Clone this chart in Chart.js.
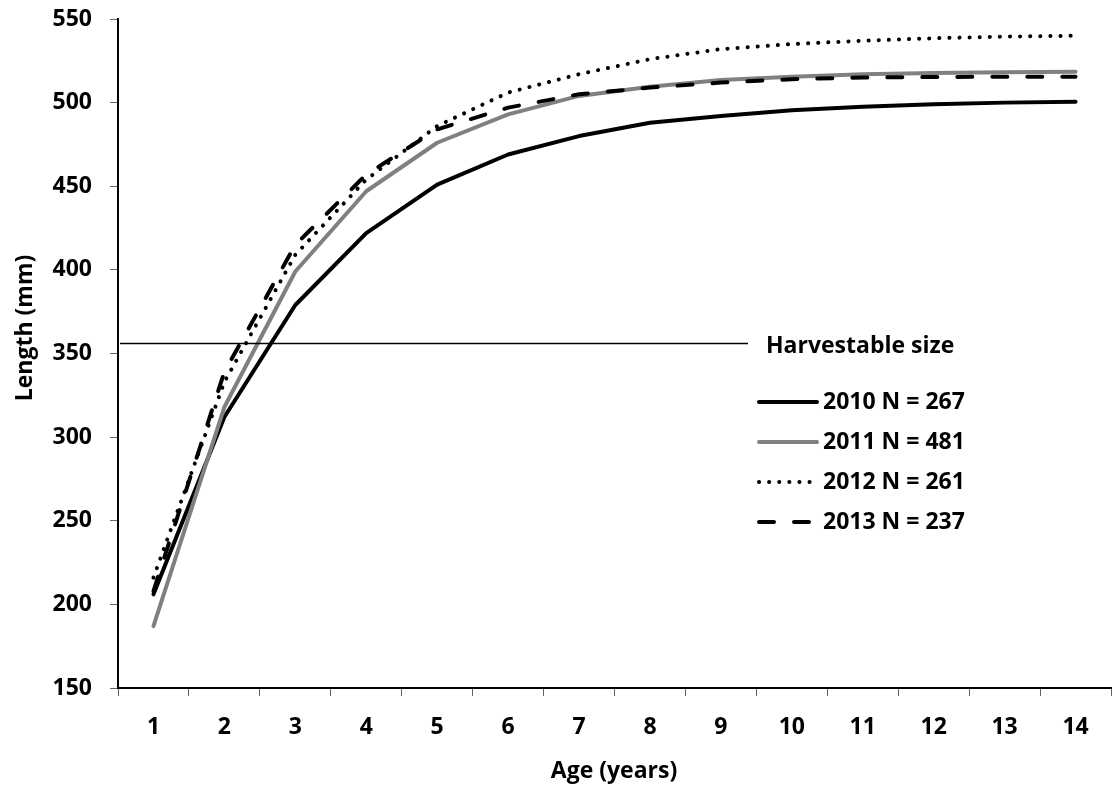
<!DOCTYPE html>
<html>
<head>
<meta charset="utf-8">
<title>Length at age</title>
<script src="https://cdn.jsdelivr.net/npm/chart.js@4.4.1/dist/chart.umd.min.js"></script>
<style>
    body { margin: 0; background: #fff; }
    #wrap { width: 1112px; height: 788px; }
</style>
</head>
<body>
<div id="wrap"><canvas id="myChart" width="1112" height="788"></canvas></div>
<script>
// values
let ages = ['1', '2', '3', '4', '5', '6', '7', '8', '9', '10', '11', '12', '13', '14']
let len2010 = [206, 312, 379, 422, 451, 469, 480, 488, 492, 495.5, 497.5, 499, 500, 500.5]
let len2011 = [187, 318, 399, 447, 476, 493, 504, 509.5, 513.5, 515.5, 517, 517.7, 518.2, 518.5]
let len2012 = [216, 333, 409, 454, 486, 506, 517, 526, 532, 535, 537, 538.5, 539.5, 540]
let len2013 = [208, 339, 415, 457, 484, 497, 505, 509, 512, 514, 515, 515.3, 515.5, 515.5]
let seriesNames = ['2010 N = 267', '2011 N = 481', '2012 N = 261', '2013 N = 237']
let harvestSize = 356
let yTicks = [150, 200, 250, 300, 350, 400, 450, 500, 550]

let fontFamily = "'Open Sans', Lato, sans-serif"
let font = 'bold 23px ' + fontFamily

// legend, harvest line and axis titles, drawn by hand like the Excel original
let sketchPlugin = {
    id: 'sketch',
    afterDatasetsDraw(chart) {
        let ctx = chart.ctx
        let area = chart.chartArea
        let y = chart.scales.y
        ctx.save()

        let hy = Math.round(y.getPixelForValue(harvestSize)) + 0.5
        ctx.strokeStyle = '#000'
        ctx.lineWidth = 1.5
        ctx.beginPath()
        ctx.moveTo(area.left + 2, hy)
        ctx.lineTo(748, hy)
        ctx.stroke()

        ctx.font = font
        ctx.fillStyle = '#000'
        ctx.textBaseline = 'middle'
        ctx.textAlign = 'left'
        ctx.fillText('Harvestable size', 766, hy + 3)

        chart.data.datasets.forEach((ds, i) => {
            let ly = 402 + i * 40
            ctx.strokeStyle = ds.borderColor
            ctx.lineWidth = ds.borderWidth
            ctx.lineCap = ds.borderCapStyle || 'butt'
            ctx.setLineDash(ds.borderDash || [])
            ctx.beginPath()
            ctx.moveTo(759, ly)
            ctx.lineTo(817, ly)
            ctx.stroke()
            ctx.setLineDash([])
            ctx.fillText(ds.label, 823, ly)
        })

        ctx.textAlign = 'center'
        ctx.fillText('Age (years)', 614, 771)

        ctx.translate(25, 328)
        ctx.rotate(-Math.PI / 2)
        ctx.fillText('Length (mm)', 0, 0)
        ctx.restore()
    }
}

let tickFont = { family: fontFamily, size: 23, weight: 'bold' }

let ctx = document.getElementById('myChart').getContext('2d')
let chart = new Chart(ctx, {
    type: 'line',
    data: {
        labels: ages,
        datasets: [{
            label: seriesNames[0],
            data: len2010,
            borderColor: '#000000',
            borderWidth: 4,
            borderCapStyle: 'round',
            order: 3
        }, {
            label: seriesNames[1],
            data: len2011,
            borderColor: '#808080',
            borderWidth: 4,
            borderCapStyle: 'round',
            order: 2
        }, {
            label: seriesNames[2],
            data: len2012,
            borderColor: '#000000',
            borderWidth: 4,
            borderCapStyle: 'round',
            borderDash: [0.1, 10],
            order: 1
        }, {
            label: seriesNames[3],
            data: len2013,
            borderColor: '#000000',
            borderWidth: 4,
            borderCapStyle: 'round',
            borderDash: [15, 20],
            order: 0
        }]
    },
    options: {
        responsive: false,
        devicePixelRatio: 1,
        animation: false,
        layout: { padding: { top: 19, right: 1, left: 0, bottom: 0 } },
        elements: {
            point: { radius: 0 },
            line: { tension: 0, borderJoinStyle: 'round' }
        },
        plugins: {
            legend: { display: false },
            tooltip: { enabled: false }
        },
        scales: {
            x: {
                offset: true,
                grid: {
                    offset: true,
                    drawOnChartArea: false,
                    tickLength: 8,
                    color: '#666'
                },
                border: { color: '#000', width: 2 },
                ticks: {
                    color: '#000',
                    font: tickFont,
                    padding: 18,
                    maxRotation: 0,
                    autoSkip: false
                },
                afterFit(scale) {
                    scale.height = 100
                    scale.paddingLeft = 0
                    scale.paddingRight = 0
                }
            },
            y: {
                min: 150,
                max: 550,
                afterBuildTicks(scale) {
                    scale.ticks = yTicks.map(v => ({ value: v }))
                },
                grid: {
                    drawOnChartArea: false,
                    tickLength: 8,
                    color: '#666'
                },
                border: { color: '#000', width: 2 },
                ticks: {
                    color: '#000',
                    font: tickFont,
                    padding: 18
                },
                afterFit(scale) {
                    scale.width = 118
                    scale.paddingTop = 0
                    scale.paddingBottom = 0
                }
            }
        }
    },
    plugins: [sketchPlugin]
})
</script>
</body>
</html>
